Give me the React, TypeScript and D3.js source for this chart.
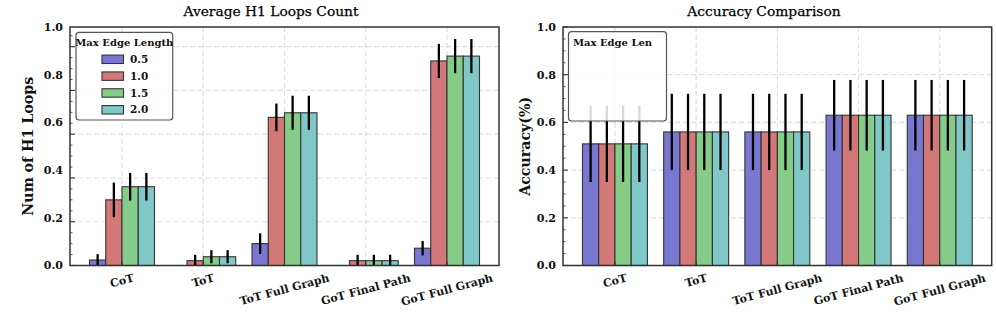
import React, { useEffect, useRef } from 'react';
import * as d3 from 'd3';

const categories = ['CoT', 'ToT', 'ToT Full Graph', 'GoT Final Path', 'GoT Full Graph'];
const edgeLengths = ['0.5', '1.0', '1.5', '2.0'];
const colors = ['#7878d0', '#d27878', '#85cc88', '#80c7c8'];

// average H1 loops count, one array per max edge length
const loops05 = [0.025, 0, 0.1, 0, 0.079];
const loops10 = [0.3, 0.022, 0.677, 0.022, 0.935];
const loops15 = [0.36, 0.04, 0.698, 0.022, 0.957];
const loops20 = [0.36, 0.04, 0.698, 0.022, 0.957];
const loopsErr05 = [0.027, 0, 0.047, 0, 0.033];
const loopsErr10 = [0.079, 0.027, 0.063, 0.027, 0.078];
const loopsErr15 = [0.063, 0.03, 0.078, 0.027, 0.078];
const loopsErr20 = [0.063, 0.03, 0.078, 0.027, 0.078];

// accuracy
const acc05 = [0.51, 0.56, 0.56, 0.63, 0.63];
const acc10 = [0.51, 0.56, 0.56, 0.63, 0.63];
const acc15 = [0.51, 0.56, 0.56, 0.63, 0.63];
const acc20 = [0.51, 0.56, 0.56, 0.63, 0.63];
const accErr05 = [0.16, 0.16, 0.16, 0.148, 0.148];
const accErr10 = [0.16, 0.16, 0.16, 0.148, 0.148];
const accErr15 = [0.16, 0.16, 0.16, 0.148, 0.148];
const accErr20 = [0.16, 0.16, 0.16, 0.148, 0.148];

const yTicks = [0, 0.2, 0.4, 0.6, 0.8, 1.0];
const yTickLabels = ['0.0', '0.2', '0.4', '0.6', '0.8', '1.0'];

const FONT = "'DejaVu Serif', serif";

function drawPanel(svg, p) {
  const x = d3.scaleLinear().domain([-0.64, 4.64]).range([p.x0, p.x1]);
  const y = d3.scaleLinear().domain([0, p.yMax]).range([p.y1, p.y0]);
  // tick labels are spread over the full height
  const yLab = d3.scaleLinear().domain([0, 1]).range([p.y1, p.y0]);
  const sub = d3.scaleBand().domain(edgeLengths).range([-0.4, 0.4]);
  const bw = sub.bandwidth() * (x(1) - x(0));
  const g = svg.append('g');

  // grid
  g.selectAll('line.hg').data(yTicks).enter().append('line')
    .attr('x1', p.x0).attr('x2', p.x1)
    .attr('y1', (d) => y(d)).attr('y2', (d) => y(d))
    .attr('stroke', '#dedede').attr('stroke-width', 1.2).attr('stroke-dasharray', '5,3');
  g.selectAll('line.vg').data(categories).enter().append('line')
    .attr('x1', (d, i) => x(i)).attr('x2', (d, i) => x(i))
    .attr('y1', p.y0).attr('y2', p.y1)
    .attr('stroke', '#dedede').attr('stroke-width', 1.2).attr('stroke-dasharray', '5,3');

  // bars
  p.values.forEach((vals, si) => {
    g.append('g').selectAll('rect').data(vals).enter().append('rect')
      .attr('x', (d, ci) => x(ci + sub(edgeLengths[si])))
      .attr('y', (d) => y(d))
      .attr('width', bw)
      .attr('height', (d) => y(0) - y(d))
      .attr('fill', colors[si])
      .attr('stroke', '#333').attr('stroke-width', 1.1);
  });
  // error bars
  p.values.forEach((vals, si) => {
    g.append('g').selectAll('line').data(vals).enter().append('line')
      .attr('x1', (d, ci) => x(ci + sub(edgeLengths[si])) + bw / 2)
      .attr('x2', (d, ci) => x(ci + sub(edgeLengths[si])) + bw / 2)
      .attr('y1', (d, ci) => y(Math.max(0, d - p.errors[si][ci])))
      .attr('y2', (d, ci) => y(d + p.errors[si][ci]))
      .attr('stroke', '#000').attr('stroke-width', 2.3)
      .attr('visibility', (d, ci) => (p.errors[si][ci] > 0 ? 'visible' : 'hidden'));
  });

  // ticks
  const minor = d3.range(0, p.yMax + 1e-9, 0.05).filter((v) => Math.abs(v * 5 - Math.round(v * 5)) > 1e-6);
  g.selectAll('line.mi').data(minor).enter().append('line')
    .attr('x1', p.x0).attr('x2', p.x0 + 2.5)
    .attr('y1', (d) => y(d)).attr('y2', (d) => y(d))
    .attr('stroke', '#333').attr('stroke-width', 0.8);
  g.selectAll('line.ma').data(yTicks).enter().append('line')
    .attr('x1', p.x0).attr('x2', p.x0 + 5)
    .attr('y1', (d) => y(d)).attr('y2', (d) => y(d))
    .attr('stroke', '#333').attr('stroke-width', 1.1);
  g.selectAll('line.xt').data(categories).enter().append('line')
    .attr('x1', (d, i) => x(i)).attr('x2', (d, i) => x(i))
    .attr('y1', p.y1).attr('y2', p.y1 - 4)
    .attr('stroke', '#333').attr('stroke-width', 1.1);

  g.selectAll('text.yl').data(yTickLabels).enter().append('text')
    .attr('x', p.x0 - 7).attr('y', (d, i) => yLab(yTicks[i]))
    .attr('dy', '0.35em').attr('text-anchor', 'end')
    .attr('font-family', FONT).attr('font-size', 11).attr('font-weight', 'bold')
    .attr('fill', '#111').text((d) => d);

  // rotated category labels
  const rot = 15 * Math.PI / 180;
  g.selectAll('text.xl').data(categories).enter().append('text')
    .attr('text-anchor', 'middle').attr('dominant-baseline', 'central')
    .attr('font-family', FONT).attr('font-size', 11).attr('font-weight', 'bold')
    .attr('fill', '#111').text((d) => d)
    .each(function (d, i) {
      const len = this.getComputedTextLength();
      const h = len * Math.sin(rot) + 11 * Math.cos(rot);
      const cx = x(i);
      const cy = p.y1 + 7 + h / 2;
      d3.select(this).attr('x', cx).attr('y', cy).attr('transform', `rotate(-15,${cx},${cy})`);
    });

  // spines
  g.append('rect').attr('x', p.x0).attr('y', p.y0)
    .attr('width', p.x1 - p.x0).attr('height', p.y1 - p.y0)
    .attr('fill', 'none').attr('stroke', '#333').attr('stroke-width', 1.5);

  // titles
  g.append('text').attr('x', p.titleX).attr('y', 16).attr('text-anchor', 'middle')
    .attr('font-family', FONT).attr('font-size', 13.8).attr('fill', '#000')
    .attr('stroke', '#000').attr('stroke-width', 0.25).text(p.title);
  g.append('text').attr('transform', `translate(${p.ylabelX},${(p.y0 + p.y1) / 2}) rotate(-90)`)
    .attr('text-anchor', 'middle').attr('font-family', FONT).attr('font-size', 14.2)
    .attr('font-weight', 'bold').attr('fill', '#111').text(p.ylabel);

  // legend
  const lg = p.legend;
  g.append('rect').attr('x', lg.x).attr('y', lg.y).attr('width', lg.w).attr('height', lg.h)
    .attr('rx', 3).attr('fill', '#fff').attr('fill-opacity', 0.85)
    .attr('stroke', '#555').attr('stroke-width', 1.2);
  g.append('text').attr('x', lg.titleX).attr('y', lg.y + 14).attr('text-anchor', lg.anchor)
    .attr('font-family', FONT).attr('font-size', 10).attr('font-weight', 'bold')
    .attr('fill', '#111').text(lg.title);
  if (lg.entries) {
    const rowY = d3.scalePoint().domain(edgeLengths).range([lg.y + 27, lg.y + 77.5]);
    const row = g.selectAll('g.le').data(edgeLengths).enter().append('g')
      .attr('transform', (d) => `translate(${lg.x + 26},${rowY(d)})`);
    row.append('rect').attr('x', 0).attr('y', -4.2).attr('width', 21.5).attr('height', 8.4)
      .attr('fill', (d, i) => colors[i]).attr('stroke', '#333').attr('stroke-width', 1.1);
    row.append('text').attr('x', 28).attr('dy', '0.35em')
      .attr('font-family', FONT).attr('font-size', 10.5).attr('font-weight', 'bold')
      .attr('fill', '#111').text((d) => d);
  }
}

export default function App() {
  const ref = useRef<SVGSVGElement>(null);

  useEffect(() => {
    const svg = d3.select(ref.current);
    svg.selectAll('*').remove();
    drawPanel(svg, {
      x0: 70, x1: 499, y0: 27, y1: 265.5, yMax: 1.09,
      values: [loops05, loops10, loops15, loops20],
      errors: [loopsErr05, loopsErr10, loopsErr15, loopsErr20],
      title: 'Average H1 Loops Count', titleX: 271,
      ylabel: 'Num of H1 Loops', ylabelX: 33,
      legend: { x: 76, y: 32.3, w: 96.7, h: 87.7, title: 'Max Edge Length', titleX: 124.3, anchor: 'middle', entries: true },
    });
    drawPanel(svg, {
      x0: 563, x1: 991.7, y0: 27, y1: 265.5, yMax: 1.0,
      values: [acc05, acc10, acc15, acc20],
      errors: [accErr05, accErr10, accErr15, accErr20],
      title: 'Accuracy Comparison', titleX: 764,
      ylabel: 'Accuracy(%)', ylabelX: 530,
      legend: { x: 568.5, y: 31.7, w: 98, h: 89.3, title: 'Max Edge Len', titleX: 573, anchor: 'start', entries: false },
    });
  }, []);

  return (
    <svg ref={ref} width={996} height={313}
      style={{ position: 'absolute', left: 0, top: 0, background: '#fff' }} />
  );
}
